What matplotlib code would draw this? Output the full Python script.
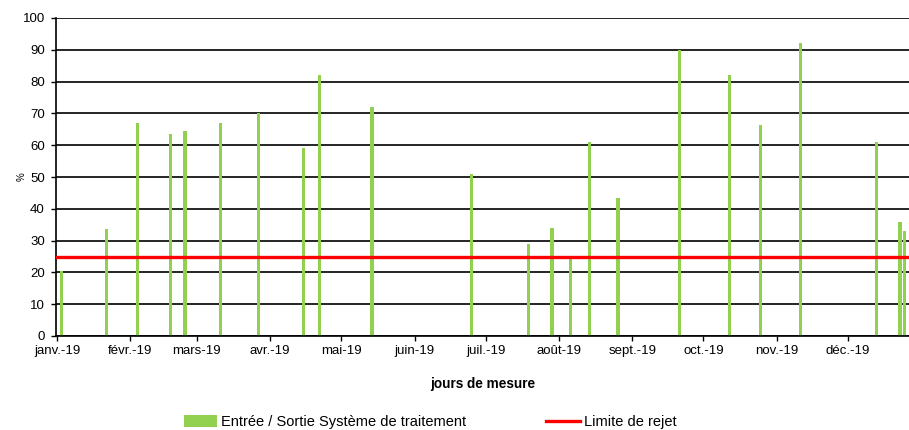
import numpy as np
import pandas as pd
import matplotlib
matplotlib.use("Agg")
import matplotlib.pyplot as plt
from matplotlib.patches import Patch
from matplotlib.lines import Line2D

plt.rcParams['font.family'] = ['Liberation Sans', 'DejaVu Sans']

# Jours de mesure et rendement entrée / sortie (%)
jours = ["2019-01-03", "2019-01-22", "2019-02-04", "2019-02-18", "2019-02-24",
         "2019-03-11", "2019-03-27", "2019-04-15", "2019-04-22", "2019-05-14",
         "2019-06-25", "2019-07-19", "2019-07-29", "2019-08-06", "2019-08-14",
         "2019-08-26", "2019-09-21", "2019-10-12", "2019-10-25", "2019-11-11",
         "2019-12-13", "2019-12-23", "2019-12-25"]
rendement = [20.5, 33.5, 67, 63.5, 64.5,
             67, 70, 59, 82, 72,
             51, 29, 34, 24.5, 61,
             43.5, 90, 82, 66.5, 92,
             61, 36, 33]
limite = 25

mois = ["janv.-19", "févr.-19", "mars-19", "avr.-19", "mai-19", "juin-19",
        "juil.-19", "août-19", "sept.-19", "oct.-19", "nov.-19", "déc.-19"]

dates = pd.to_datetime(jours)
debut_mois = pd.date_range("2019-01-01", periods=12, freq="MS")

fig = plt.figure(figsize=(9.09, 4.30), dpi=100)
ax = fig.add_axes([56/909, 94/430, 1 - 56/909, 318/430])

vert = '#92D050'
ax.bar(dates, rendement, width=1.4, color=vert, zorder=2)
ax.axhline(limite, color='#FF0000', lw=2.4, zorder=3)

ax.set_ylim(0, 100)
ax.set_yticks(np.arange(0, 101, 10))
ax.set_xlim(pd.Timestamp("2018-12-31 14:00"), pd.Timestamp("2019-12-26 20:00"))
ax.set_xticks(debut_mois)
ax.set_xticklabels(mois)

ax.yaxis.grid(True, color='black', lw=1.2, zorder=1)
ax.set_axisbelow(True)
for s in ['top', 'right']:
    ax.spines[s].set_visible(False)
for s in ['left', 'bottom']:
    ax.spines[s].set_linewidth(1.2)
ax.tick_params(axis='both', labelsize=9.5, length=3.6, width=1, direction='out')
ax.tick_params(axis='y', pad=4.5)
ax.tick_params(axis='x', pad=3)

ax.set_ylabel('%', fontsize=7, labelpad=-3)
ax.set_xlabel('jours de mesure', fontsize=9.8, fontweight='bold', labelpad=14)

poignees = [Patch(facecolor=vert, edgecolor='none'),
            Line2D([0], [0], color='#FF0000', lw=2.4)]
fig.legend(poignees, ['Entrée / Sortie Système de traitement', 'Limite de rejet'],
           loc='center', bbox_to_anchor=(430/909, 1 - 422/430), ncol=2,
           frameon=False, fontsize=10.5, handlelength=2.3, handleheight=0.85,
           handletextpad=0.25, columnspacing=5.5)

fig.savefig('out.png', dpi=100)
